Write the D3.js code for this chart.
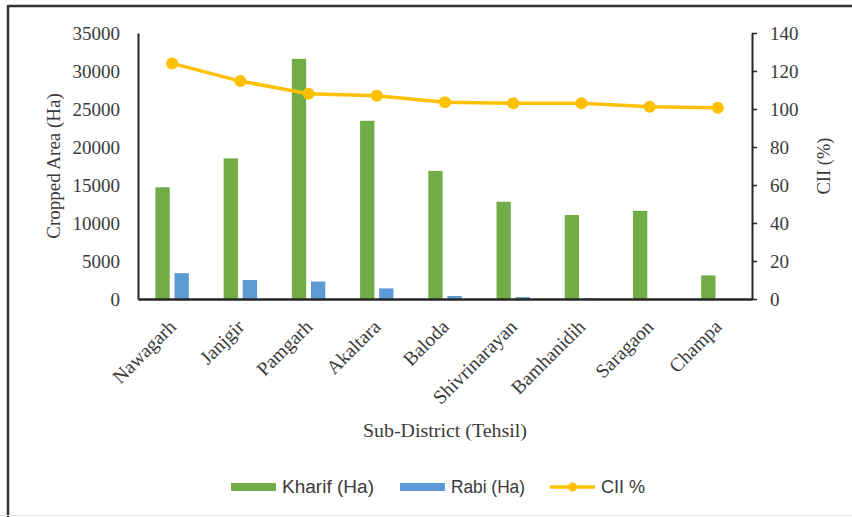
<!DOCTYPE html>
<html>
<head>
<meta charset="utf-8">
<script src="https://cdn.jsdelivr.net/npm/d3@7"></script>
<style>
  body { margin: 0; background: #fff; }
  svg text { font-family: "Liberation Serif", "DejaVu Serif", serif; fill: #3a3a3a; }
  svg text.legendText { font-family: "Liberation Sans", "Open Sans", sans-serif; }
</style>
</head>
<body>
<div id="chart"></div>
<script>
// data
var tehsils = ["Nawagarh", "Janjgir", "Pamgarh", "Akaltara", "Baloda", "Shivrinarayan", "Bamhanidih", "Saragaon", "Champa"];
var kharif = [14700, 18500, 31600, 23450, 16850, 12800, 11050, 11600, 3100];
var rabi = [3400, 2500, 2300, 1400, 400, 250, 100, 0, 0];
var cii = [124, 114.7, 108, 107, 103.5, 103, 103, 101.2, 100.7];
var leftTicks = [0, 5000, 10000, 15000, 20000, 25000, 30000, 35000];
var rightTicks = [0, 20, 40, 60, 80, 100, 120, 140];

var W = 852, H = 517;
var margin = { top: 33, right: 100, bottom: 218, left: 138 };
var plotW = W - margin.left - margin.right,
	plotH = H - margin.top - margin.bottom;

var svg = d3.select("#chart").append("svg")
	.attr("width", W)
	.attr("height", H);

// frame (cropped on the right, as in the picture)
svg.append("line").attr("x1", 8).attr("y1", 6).attr("x2", W).attr("y2", 6)
	.attr("stroke", "#333").attr("stroke-width", 2.5);
svg.append("line").attr("x1", 8).attr("y1", 5).attr("x2", 8).attr("y2", H)
	.attr("stroke", "#333").attr("stroke-width", 2.5);
svg.append("line").attr("x1", 0).attr("y1", 515.5).attr("x2", W).attr("y2", 515.5)
	.attr("stroke", "#e8e8e8").attr("stroke-width", 1);

var g = svg.append("g").attr("transform", "translate(" + margin.left + "," + margin.top + ")");

var x = d3.scaleBand().domain(tehsils).range([0, plotW]);
var y = d3.scaleLinear().domain([0, 35000]).range([plotH, 0]);
var y2 = d3.scaleLinear().domain([0, 140]).range([plotH, 0]);

var barW = x.bandwidth() * 0.21;
var gapW = x.bandwidth() * 0.07;

// bars
g.selectAll(".kharif").data(kharif).enter().append("rect")
	.attr("class", "kharif")
	.attr("x", function (d, i) { return x(tehsils[i]) + x.bandwidth() / 2 - barW - gapW / 2; })
	.attr("y", function (d) { return y(d); })
	.attr("width", barW)
	.attr("height", function (d) { return plotH - y(d); })
	.attr("fill", "#70ad47");

g.selectAll(".rabi").data(rabi).enter().append("rect")
	.attr("class", "rabi")
	.attr("x", function (d, i) { return x(tehsils[i]) + x.bandwidth() / 2 + gapW / 2; })
	.attr("y", function (d) { return y(d); })
	.attr("width", barW)
	.attr("height", function (d) { return plotH - y(d); })
	.attr("fill", "#5b9bd5");

// left axis
var leftAxis = g.append("g").call(d3.axisLeft(y).tickValues(leftTicks).tickFormat(d3.format("d")).tickSize(0).tickPadding(18));
leftAxis.select(".domain").attr("stroke", "#262626").attr("stroke-width", 2);
leftAxis.selectAll("text").style("font-size", "19px");

// right axis
var rightAxis = g.append("g").attr("transform", "translate(" + plotW + ",0)")
	.call(d3.axisRight(y2).tickValues(rightTicks).tickFormat(d3.format("d")).tickSize(5).tickPadding(13).tickSizeOuter(0));
rightAxis.select(".domain").attr("stroke", "#262626").attr("stroke-width", 2);
rightAxis.selectAll(".tick line").attr("stroke", "#262626").attr("stroke-width", 1.5);
rightAxis.selectAll("text").style("font-size", "19px");

// bottom axis
var bottomAxis = g.append("g").attr("transform", "translate(0," + plotH + ")")
	.call(d3.axisBottom(x).tickSize(0).tickPadding(0));
bottomAxis.select(".domain").attr("stroke", "#262626").attr("stroke-width", 2.5);
bottomAxis.selectAll("text")
	.style("font-size", "19.5px")
	.attr("text-anchor", "end")
	.attr("dy", "0")
	.attr("transform", "translate(5,29) rotate(-45)");

// CII line
var line = d3.line()
	.x(function (d, i) { return x(tehsils[i]) + x.bandwidth() / 2; })
	.y(function (d) { return y2(d); });
g.append("path").datum(cii)
	.attr("d", line)
	.attr("fill", "none")
	.attr("stroke", "#ffc000")
	.attr("stroke-width", 3.5);
g.selectAll(".dot").data(cii).enter().append("circle")
	.attr("class", "dot")
	.attr("cx", function (d, i) { return x(tehsils[i]) + x.bandwidth() / 2; })
	.attr("cy", function (d) { return y2(d); })
	.attr("r", 6)
	.attr("fill", "#ffc000");

// axis titles
svg.append("text")
	.attr("transform", "translate(60,166) rotate(-90)")
	.attr("text-anchor", "middle")
	.style("font-size", "19px")
	.text("Cropped Area (Ha)");
svg.append("text")
	.attr("transform", "translate(830,166) rotate(-90)")
	.attr("text-anchor", "middle")
	.style("font-size", "18.5px")
	.text("CII (%)");
svg.append("text")
	.attr("x", 445).attr("y", 437)
	.attr("text-anchor", "middle")
	.attr("textLength", 164)
	.attr("lengthAdjust", "spacingAndGlyphs")
	.style("font-size", "19.5px")
	.text("Sub-District (Tehsil)");

// legend
var legendItems = [
	{ label: "Kharif (Ha)", color: "#70ad47", type: "bar", x: 231, w: 92 },
	{ label: "Rabi (Ha)", color: "#5b9bd5", type: "bar", x: 400, w: 74 },
	{ label: "CII %", color: "#ffc000", type: "line", x: 550, w: 44 }
];
var lg = svg.append("g").attr("transform", "translate(0,487)");
legendItems.forEach(function (it) {
	if (it.type == "bar") {
		lg.append("rect").attr("x", it.x).attr("y", -4).attr("width", 45).attr("height", 8).attr("fill", it.color);
	} else {
		lg.append("line").attr("x1", it.x).attr("x2", it.x + 45).attr("y1", 0).attr("y2", 0)
			.attr("stroke", it.color).attr("stroke-width", 3.5);
		lg.append("circle").attr("cx", it.x + 22.5).attr("cy", 0).attr("r", 4.5).attr("fill", it.color);
	}
	lg.append("text")
		.attr("class", "legendText")
		.attr("x", it.x + 51).attr("y", 6)
		.attr("textLength", it.w)
		.attr("lengthAdjust", "spacingAndGlyphs")
		.style("font-size", "18px")
		.text(it.label);
});
</script>
</body>
</html>
